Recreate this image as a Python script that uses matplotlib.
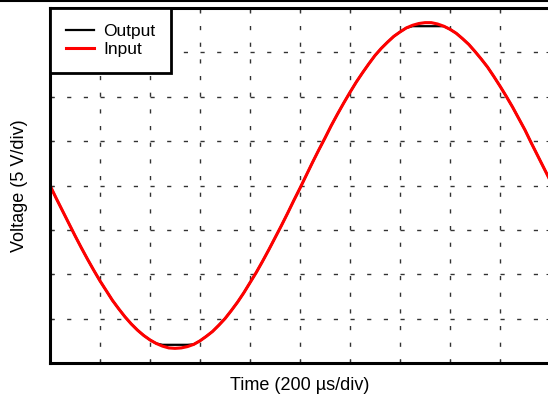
import numpy as np
import matplotlib.pyplot as plt
from matplotlib.lines import Line2D

plt.rcParams['font.family'] = ['Liberation Sans', 'DejaVu Sans']

# time in divisions (200 us/div), voltage in divisions (5 V/div)
t_div = [0.000, 0.125, 0.250, 0.375, 0.500, 0.625, 0.750, 0.875, 1.000,
         1.125, 1.250, 1.375, 1.500, 1.625, 1.750, 1.875, 2.000,
         2.125, 2.250, 2.375, 2.500, 2.625, 2.750, 2.875, 3.000,
         3.125, 3.250, 3.375, 3.500, 3.625, 3.750, 3.875, 4.000,
         4.125, 4.250, 4.375, 4.500, 4.625, 4.750, 4.875, 5.000,
         5.125, 5.250, 5.375, 5.500, 5.625, 5.750, 5.875, 6.000,
         6.125, 6.250, 6.375, 6.500, 6.625, 6.750, 6.875, 7.000,
         7.125, 7.250, 7.375, 7.500, 7.625, 7.750, 7.875, 8.000,
         8.125, 8.250, 8.375, 8.500, 8.625, 8.750, 8.875, 9.000,
         9.125, 9.250, 9.375, 9.500, 9.625, 9.750, 9.875, 10.000]
v_in = [0.00, -0.29, -0.57, -0.85, -1.13, -1.40, -1.66, -1.91, -2.15,
        -2.37, -2.59, -2.78, -2.96, -3.12, -3.26, -3.38, -3.48,
        -3.56, -3.62, -3.66, -3.67, -3.66, -3.63, -3.58, -3.50,
        -3.40, -3.29, -3.15, -3.00, -2.82, -2.63, -2.42, -2.19,
        -1.96, -1.71, -1.45, -1.18, -0.91, -0.63, -0.34, -0.06,
        0.23, 0.52, 0.80, 1.07, 1.35, 1.61, 1.86, 2.10,
        2.33, 2.54, 2.74, 2.93, 3.09, 3.23, 3.36, 3.46,
        3.55, 3.61, 3.65, 3.67, 3.67, 3.64, 3.59, 3.52,
        3.43, 3.31, 3.18, 3.02, 2.85, 2.67, 2.46, 2.24,
        2.01, 1.77, 1.51, 1.25, 0.96, 0.68, 0.40, 0.12]
v_out = [0.00, -0.29, -0.57, -0.85, -1.13, -1.40, -1.66, -1.91, -2.15,
         -2.37, -2.59, -2.78, -2.96, -3.12, -3.26, -3.38, -3.48,
         -3.56, -3.59, -3.59, -3.59, -3.59, -3.59, -3.58, -3.50,
         -3.40, -3.29, -3.15, -3.00, -2.82, -2.63, -2.42, -2.19,
         -1.96, -1.71, -1.45, -1.18, -0.91, -0.63, -0.34, -0.06,
         0.23, 0.52, 0.80, 1.07, 1.35, 1.61, 1.86, 2.10,
         2.33, 2.54, 2.74, 2.93, 3.09, 3.23, 3.36, 3.46,
         3.55, 3.59, 3.59, 3.59, 3.59, 3.59, 3.59, 3.52,
         3.43, 3.31, 3.18, 3.02, 2.85, 2.67, 2.46, 2.24,
         2.01, 1.77, 1.51, 1.25, 0.96, 0.68, 0.40, 0.12]

fig = plt.figure(figsize=(5.48, 3.95), dpi=100)
ax = fig.add_axes([50 / 548, 32 / 395, 500 / 548, 355 / 395])

ax.plot(t_div, v_out, color='black', lw=1.6, label='Output')
ax.plot(t_div, v_in, color='red', lw=2.2, label='Input')

ax.set_xlim(0, 10)
ax.set_ylim(-4, 4)
ax.set_xticks(np.arange(0, 11, 1))
ax.set_yticks(np.arange(-4, 5, 1))
ax.tick_params(direction='in', length=3, labelbottom=False, labelleft=False,
               color='#333333', top=True, right=True)
ax.grid(True, color='#333333', linestyle=(0, (3, 9)), linewidth=1.0)
for s in ax.spines.values():
    s.set_linewidth(2.2)

ax.set_xlabel('Time (200 \u00b5s/div)', fontsize=13, labelpad=10)
ax.set_ylabel('Voltage (5 V/div)', fontsize=13, labelpad=16)

leg = ax.legend(loc='upper left', fontsize=12.5, fancybox=False, framealpha=1,
                edgecolor='black', borderaxespad=0, handlelength=1.65,
                handletextpad=0.5, labelspacing=0.2, borderpad=0.9)
leg.get_frame().set_linewidth(2.0)

# thin border line at the very top of the figure
fig.add_artist(Line2D([0, 1], [0.998, 0.998], color='black', lw=1.5,
                      transform=fig.transFigure))

fig.savefig('out.png', dpi=100)
